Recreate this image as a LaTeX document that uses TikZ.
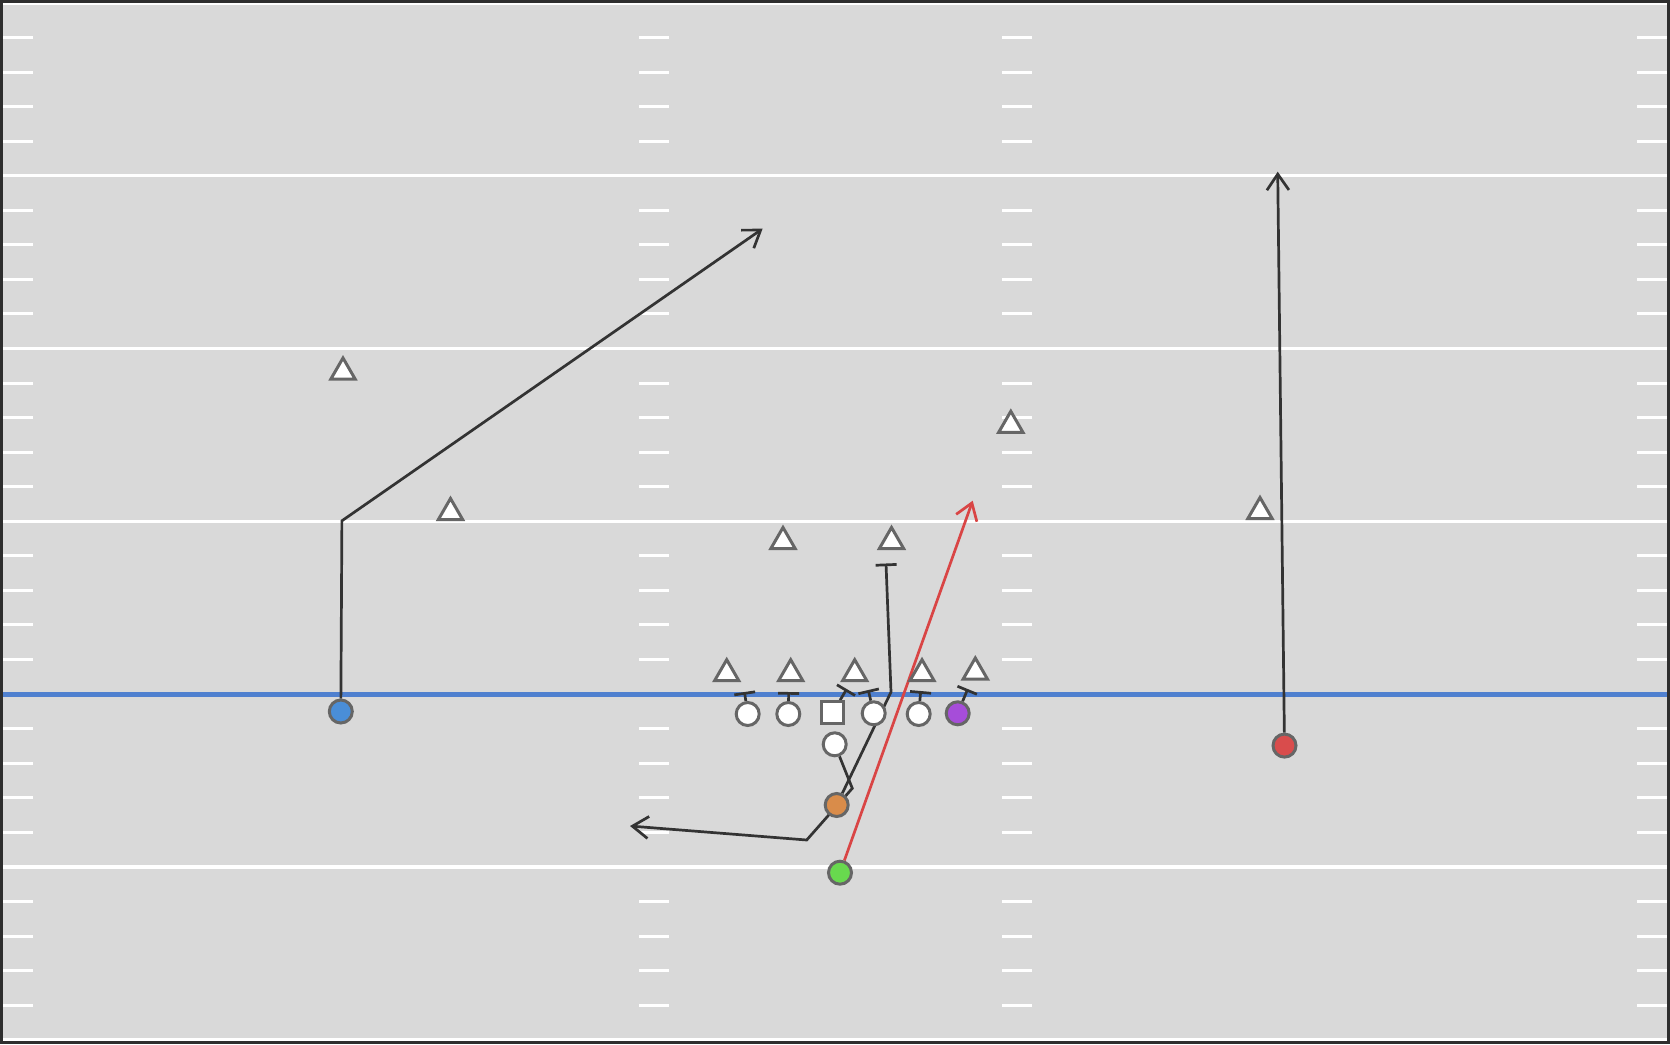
\documentclass[tikz,border=0pt]{standalone}
\usetikzlibrary{arrows.meta, shapes.geometric}

\definecolor{turf}{HTML}{D9D9D9}
\definecolor{edge}{HTML}{2E2E2E}
\definecolor{losblue}{HTML}{4F80CF}
\definecolor{rim}{HTML}{666666}
\definecolor{ink}{HTML}{333333}
\definecolor{hotred}{HTML}{D94545}
\definecolor{pblue}{HTML}{4A8ED8}
\definecolor{porange}{HTML}{D98C4A}
\definecolor{pgreen}{HTML}{68D94E}
\definecolor{pred}{HTML}{D94C4C}
\definecolor{ppurple}{HTML}{A64DD9}

\pgfdeclarelayer{field}
\pgfdeclarelayer{routes}
\pgfsetlayers{field,routes,main}

\tikzset{
  player/.style={circle, draw=rim, line width=1.5pt, fill=white, minimum size=11.5pt, inner sep=0pt},
  snapper/.style={rectangle, draw=rim, line width=1.5pt, fill=white, minimum size=11pt, inner sep=0pt},
  defender/.style={regular polygon, regular polygon sides=3, draw=rim, fill=white, line width=1.5pt, minimum size=14pt, inner sep=0pt},
  route/.style={draw=ink, line width=1.35pt},
  block/.style={route, -{Bar[width=10.5pt]}},
  run/.style={route, -{Straight Barb[length=8pt, width=11pt]}},
  hash/.style={white, line width=1.5pt},
  yardline/.style={white, line width=1.6pt},
}

\begin{document}
\begin{tikzpicture}[x=0.5pt, y=-0.5pt]
  \useasboundingbox (0,0) rectangle (1670,1044);

  \begin{pgfonlayer}{field}
    \fill[turf] (0,0) rectangle (1670,1044);
    \foreach \b in {0,5,...,25}
      \foreach \j in {1,...,4}
        \foreach \x in {3,639,1002,1637}
          \draw[hash] (\x,{2.9+34.56*(\b+\j)}) -- ++(30,0);
    \foreach \k in {0,5,...,30}
      \draw[yardline] (0,{2.9+34.56*\k}) -- (1670,{2.9+34.56*\k});
    \draw[losblue, line width=2.5pt] (0,694.1) -- (1670,694.1);   % line of scrimmage
    \draw[edge, line width=1.5pt] (1.5,1.5) rectangle (1668.5,1042.5);
  \end{pgfonlayer}

  % defense
  \node[defender] (d1) at (343,372) {};
  \node[defender] (d2) at (450.5,512.5) {};
  \node[defender] (d3) at (783,541.5) {};
  \node[defender] (d4) at (891.5,541.5) {};
  \node[defender] (d5) at (1010.8,425.3) {};
  \node[defender] (d6) at (1260,511.5) {};
  \node[defender] (dl1) at (726.7,673.7) {};
  \node[defender] (dl2) at (790.7,673.7) {};
  \node[defender] (dl3) at (854.7,673.7) {};
  \node[defender] (dl4) at (922,673.7) {};
  \node[defender] (dl5) at (975.3,672) {};

  % offense
  \node[player, fill=pblue] (wrl) at (340.8,711.5) {};
  \node[player] (lt) at (747.7,714) {};
  \node[player] (lg) at (788.3,714) {};
  \node[snapper] (ctr) at (832.7,712.7) {};
  \node[player] (rg) at (873.7,713.3) {};
  \node[player] (rt) at (918.7,714) {};
  \node[player, fill=ppurple] (te) at (957.7,713.3) {};
  \node[player] (qb) at (834.7,744.3) {};
  \node[player, fill=porange] (rb) at (836.7,805) {};
  \node[player, fill=pgreen] (fb) at (840,872.7) {};
  \node[player, fill=pred] (wrr) at (1284.5,745.6) {};

  % route ends
  \coordinate (wrlk) at (341.9,520.8);
  \coordinate (wrlt) at (762.6,228.7);
  \coordinate (rbk) at (891,692);
  \coordinate (rbt) at (886,563.5);
  \coordinate (qbk1) at (852.3,788.3);
  \coordinate (qbk2) at (806.7,840);
  \coordinate (qbt) at (630,826);
  \coordinate (fbt) at (972.7,500.7);
  \coordinate (wrrt) at (1277.7,171.7);
  \coordinate (ltb) at (744.5,692);
  \coordinate (lgb) at (788.7,692);
  \coordinate (ctrb) at (846.7,689);
  \coordinate (rgb) at (868.3,690);
  \coordinate (rtb) at (920.7,691);
  \coordinate (teb) at (967.7,689);

  \begin{pgfonlayer}{routes}
    \draw[run] (wrl) -- (wrlk) -- (wrlt);
    \draw[run] (wrr) -- (wrrt);
    \draw[run, draw=hotred] (fb) -- (fbt);
    \draw[run] (qb) -- (qbk1) -- (qbk2) -- (qbt);
    \draw[block] (rb) -- (rbk) -- (rbt);
    \foreach \p in {lt,lg,ctr,rg,rt,te}
      \draw[block] (\p) -- (\p b);
  \end{pgfonlayer}
\end{tikzpicture}
\end{document}
